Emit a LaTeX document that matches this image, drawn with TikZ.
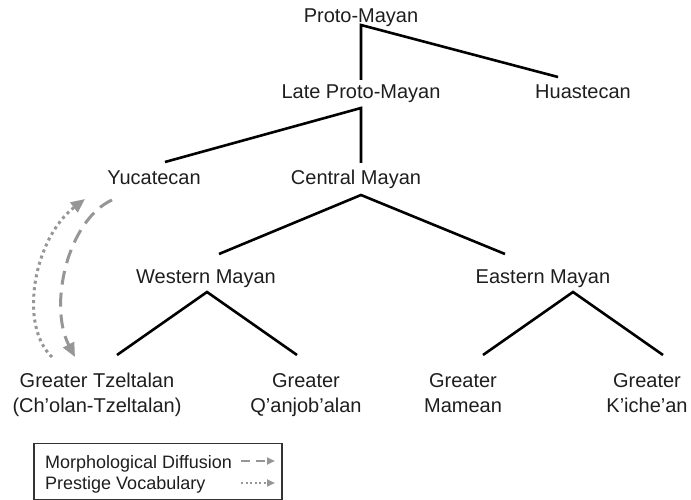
\documentclass[tikz,border=0pt]{standalone}
\usepackage{fontspec}
\setmainfont{Liberation Sans}
\usetikzlibrary{arrows.meta}
\definecolor{arrgray}{RGB}{150,150,150}
\definecolor{txtcol}{RGB}{30,30,30}
\begin{document}
\begin{tikzpicture}[x=1pt,y=-1pt,
  lbl/.style={anchor=base, inner sep=0pt, text=txtcol, font=\fontsize{20}{25}\selectfont},
  leglbl/.style={anchor=base west, inner sep=0pt, text=txtcol, font=\fontsize{18}{21}\selectfont},
  branch/.style={line width=2.6pt, line join=miter, black},
  diffarrow/.style={arrgray, line width=3pt, dash pattern=on 14pt off 8pt, -{Triangle[length=14pt,width=12pt]}},
  prestarrow/.style={arrgray, line width=3pt, dash pattern=on 3pt off 3.5pt, -{Triangle[length=14pt,width=12pt]}},
  legdiff/.style={arrgray, line width=2pt, dash pattern=on 9pt off 6pt, -{Triangle[length=8pt,width=7pt]}},
  legprest/.style={arrgray, line width=2pt, dash pattern=on 2pt off 2.5pt, -{Triangle[length=8pt,width=7pt]}},
  legbox/.style={draw=black!80, line width=1.6pt, inner sep=0pt, anchor=north west}
]
\useasboundingbox (0,0) rectangle (691,500);

% labels
\node[lbl] (pm)  at (361,23) {Proto-Mayan};
\node[lbl] (lpm) at (361,99) {Late Proto-Mayan};
\node[lbl] (hua) at (583,99) {Huastecan};
\node[lbl] (yuc) at (154,185) {Yucatecan};
\node[lbl] (cm)  at (356,185) {Central Mayan};
\node[lbl] (wm)  at (206,283) {Western Mayan};
\node[lbl] (em)  at (543,283) {Eastern Mayan};
\node[lbl] (gt)  at (97,387)  {\begin{tabular}[t]{@{}c@{}}Greater Tzeltalan\\(Ch’olan-Tzeltalan)\end{tabular}};
\node[lbl] (gq)  at (306,387) {\begin{tabular}[t]{@{}c@{}}Greater\\Q’anjob’alan\end{tabular}};
\node[lbl] (gm)  at (463,387) {\begin{tabular}[t]{@{}c@{}}Greater\\Mamean\end{tabular}};
\node[lbl] (gk)  at (647,387) {\begin{tabular}[t]{@{}c@{}}Greater\\K’iche’an\end{tabular}};

% branch points
\coordinate (pm-a) at (361,25);
\coordinate (lpm-t) at (361,80);
\coordinate (hua-t) at (558,77);
\coordinate (lpm-a) at (361,108);
\coordinate (yuc-t) at (165,162);
\coordinate (cm-t) at (361,163);
\coordinate (cm-a) at (361,195);
\coordinate (wm-t) at (219,254);
\coordinate (em-t) at (505,254);
\coordinate (wm-a) at (207,292);
\coordinate (gt-t) at (117,355);
\coordinate (gq-t) at (297,355);
\coordinate (em-a) at (573,292);
\coordinate (gm-t) at (483,355);
\coordinate (gk-t) at (663,355);

\draw[branch] (lpm-t) -- (pm-a) -- (hua-t);
\draw[branch] (yuc-t) -- (lpm-a) -- (cm-t);
\draw[branch] (wm-t) -- (cm-a) -- (em-t);
\draw[branch] (gt-t) -- (wm-a) -- (gq-t);
\draw[branch] (gm-t) -- (em-a) -- (gk-t);

% contact arrows
\coordinate (dif-s) at (112,200);
\coordinate (dif-e) at (75,357);
\coordinate (pre-s) at (52,357);
\coordinate (pre-e) at (85,199);
\draw[diffarrow] (dif-s) .. controls (68,220) and (48,305) .. (dif-e);
\draw[prestarrow] (pre-s) .. controls (18,325) and (34,238) .. (pre-e);

% legend
\node[legbox, minimum width=248pt, minimum height=56pt] (legend) at (33,442.5) {};
\node[leglbl] (lg1) at (45,468) {Morphological Diffusion};
\node[leglbl] (lg2) at (45,489) {Prestige Vocabulary};
\coordinate (lg1-s) at (241,461);
\coordinate (lg1-e) at (275,461);
\coordinate (lg2-s) at (241,483);
\coordinate (lg2-e) at (275,483);
\draw[legdiff] (lg1-s) -- (lg1-e);
\draw[legprest] (lg2-s) -- (lg2-e);
\end{tikzpicture}
\end{document}
